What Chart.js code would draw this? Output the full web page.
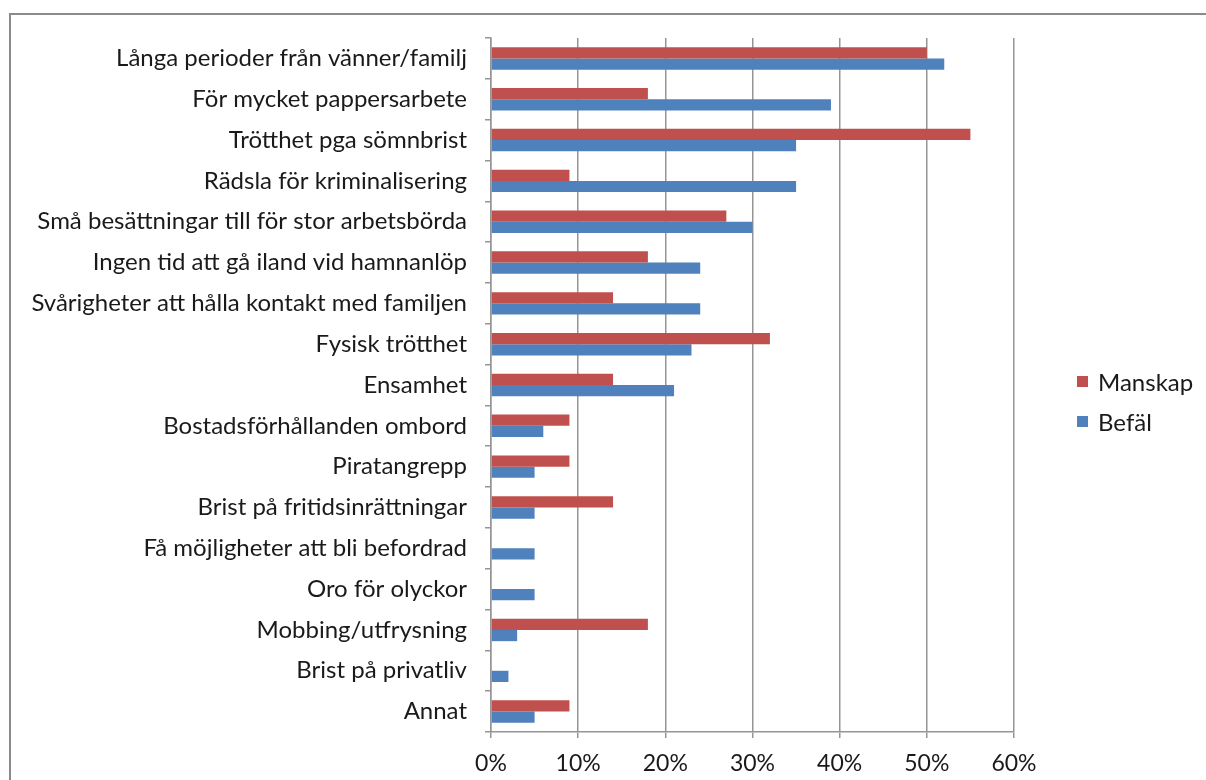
<!DOCTYPE html>
<html>
<head>
<meta charset="utf-8">
<script src="https://cdn.jsdelivr.net/npm/chart.js@4/dist/chart.umd.min.js"></script>
<style>
  html, body { margin: 0; padding: 0; background: #fff; }
  #wrap { position: relative; width: 1206px; height: 780px; overflow: hidden; }
  #frame {
    position: absolute; left: 9px; top: 13px; width: 1300px; height: 900px;
    border: 2px solid #8a8a8a; box-sizing: border-box;
  }
  #chartStress { position: absolute; left: 0; top: 0; }
  #legend {
    position: absolute; left: 1077px; top: 366px;
    font-family: Lato, sans-serif; font-size: 24px; color: #1a1a1a;
  }
  #legend .item { display: flex; align-items: center; height: 30px; margin-bottom: 10px; }
  #legend .box { width: 11px; height: 11px; margin-right: 10px; }
</style>
</head>
<body>
<div id="wrap">
  <div id="frame"></div>
  <canvas id="chartStress" width="1206" height="780"></canvas>
  <div id="legend"></div>
</div>
<script>
const categories = [
  'Långa perioder från vänner/familj',
  'För mycket pappersarbete',
  'Trötthet pga sömnbrist',
  'Rädsla för kriminalisering',
  'Små besättningar till för stor arbetsbörda',
  'Ingen tid att gå iland vid hamnanlöp',
  'Svårigheter att hålla kontakt med familjen',
  'Fysisk trötthet',
  'Ensamhet',
  'Bostadsförhållanden ombord',
  'Piratangrepp',
  'Brist på fritidsinrättningar',
  'Få möjligheter att bli befordrad',
  'Oro för olyckor',
  'Mobbing/utfrysning',
  'Brist på privatliv',
  'Annat',
];

// percent of respondents
const manskap = [50, 18, 55, 9, 27, 18, 14, 32, 14, 9, 9, 14, 0, 0, 18, 0, 9];
const befal = [52, 39, 35, 35, 30, 24, 24, 23, 21, 6, 5, 5, 5, 5, 3, 2, 5];

const xTicks = [0, 10, 20, 30, 40, 50, 60];

const labelFont = { family: 'Lato, sans-serif', size: 24 };
const tickFont = { family: 'Lato, sans-serif', size: 23 };
const gridGray = '#959595';

const dataBars = {
  labels: categories,
  datasets: [
    {
      label: 'Manskap',
      data: manskap,
      backgroundColor: '#c0504d',
      categoryPercentage: 0.55,
      barPercentage: 1.0,
    },
    {
      label: 'Befäl',
      data: befal,
      backgroundColor: '#4f81bd',
      categoryPercentage: 0.55,
      barPercentage: 1.0,
    },
  ],
};

const configBars = {
  type: 'bar',
  data: dataBars,
  options: {
    indexAxis: 'y',
    responsive: false,
    animation: false,
    layout: { padding: { left: 0, right: 192, top: 38, bottom: 0 } },
    plugins: {
      legend: { display: false },
      tooltip: { enabled: false },
    },
    scales: {
      x: {
        min: 0,
        max: 60,
        afterBuildTicks: (scale) => {
          scale.ticks = xTicks.map((v) => ({ value: v }));
        },
        afterFit: (scale) => {
          scale.height = 48;
        },
        grid: { color: gridGray, lineWidth: 1.5, tickLength: 6 },
        border: { color: gridGray, width: 1.5 },
        ticks: {
          color: '#1a1a1a',
          font: tickFont,
          padding: 12,
          maxRotation: 0,
          callback: (v) => v + '%',
        },
      },
      y: {
        afterFit: (scale) => {
          scale.width = 491;
        },
        grid: { drawOnChartArea: false, color: gridGray, lineWidth: 1.5, tickLength: 6 },
        border: { color: gridGray, width: 1.5 },
        ticks: { color: '#1a1a1a', font: labelFont, padding: 18 },
      },
    },
  },
};

var chartBars = new Chart(document.getElementById('chartStress'), configBars);

// legend beside the plot, built from the datasets
const legendEl = document.getElementById('legend');
dataBars.datasets.forEach((ds) => {
  const item = document.createElement('div');
  item.className = 'item';
  const box = document.createElement('span');
  box.className = 'box';
  box.style.background = ds.backgroundColor;
  const text = document.createElement('span');
  text.textContent = ds.label;
  item.appendChild(box);
  item.appendChild(text);
  legendEl.appendChild(item);
});
</script>
</body>
</html>
